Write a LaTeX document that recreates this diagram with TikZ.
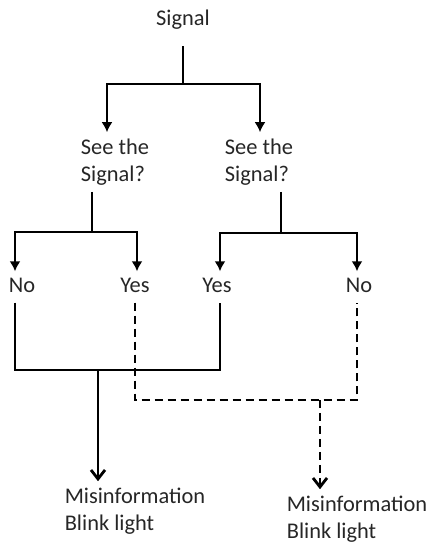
\documentclass[tikz,border=0pt]{standalone}
\usepackage{fontspec}
\setmainfont{Carlito}
\usepackage{tikz}
\usetikzlibrary{arrows,arrows.meta,shapes}

\begin{document}
\begin{tikzpicture}[>=latex',line join=miter,line width=2.8bp,
  txt/.style={font=\fontsize{22.5}{27.5}\selectfont,align=left,inner sep=5bp,text=black!85},
  fillarrow/.style={-{Latex[length=10bp,width=11bp]}},
  openarrow/.style={-{Straight Barb[length=9bp,width=14bp]}},
  dashwire/.style={dash pattern=on 8bp off 5bp}]
\useasboundingbox (0bp,0bp) rectangle (430bp,546bp);
%%
\node (sig) at (183.0bp,526.0bp) [txt] {Signal};
  \node (see1) at (115.0bp,384.0bp) [txt] {See the\\Signal?};
  \node (see2) at (259.0bp,384.0bp) [txt] {See the\\Signal?};
  \node (no1) at (22.0bp,261.0bp) [txt] {No};
  \node (yes1) at (135.0bp,261.0bp) [txt] {Yes};
  \node (yes2) at (217.0bp,261.0bp) [txt] {Yes};
  \node (no2) at (359.0bp,261.0bp) [txt] {No};
  \node (mis1) at (135.0bp,35.0bp) [txt] {Misinformation\\Blink light};
  \node (mis2) at (357.0bp,27.0bp) [txt] {Misinformation\\Blink light};
  \coordinate (jtop) at (183.0bp,462.0bp);
  \coordinate (j1) at (92.0bp,314.0bp);
  \coordinate (j2) at (281.0bp,313.0bp);
  \coordinate (jL) at (98.0bp,176.0bp);
  \coordinate (jR) at (320.0bp,146.0bp);
%
  \draw ([yshift=-10bp]sig.south) -- (jtop);
  \draw [fillarrow] (jtop) -| ([xshift=-8bp]see1.north);
  \draw [fillarrow] (jtop) -| ([xshift=1bp]see2.north);
  \draw (see1.south -| j1) -- (j1);
  \draw (see2.south -| j2) -- (j2);
  \draw [fillarrow] (j1) -| ([xshift=-7bp]no1.north);
  \draw [fillarrow] (j1) -| ([xshift=2bp]yes1.north);
  \draw [fillarrow] (j2) -| ([xshift=3bp]yes2.north);
  \draw [fillarrow] (j2) -| ([xshift=-2bp]no2.north);
%
  \draw ([xshift=-7bp,yshift=-4bp]no1.south) |- (jL) -| ([xshift=3bp,yshift=-4bp]yes2.south);
  \draw [openarrow] (jL) -- (jL |- mis1.north);
  \draw [dashwire] ([yshift=-4bp]yes1.south) |- (jR) -| ([xshift=-2bp,yshift=-4bp]no2.south);
  \draw [dashwire,openarrow] (jR) -- (jR |- mis2.north);
%
\end{tikzpicture}
\end{document}
